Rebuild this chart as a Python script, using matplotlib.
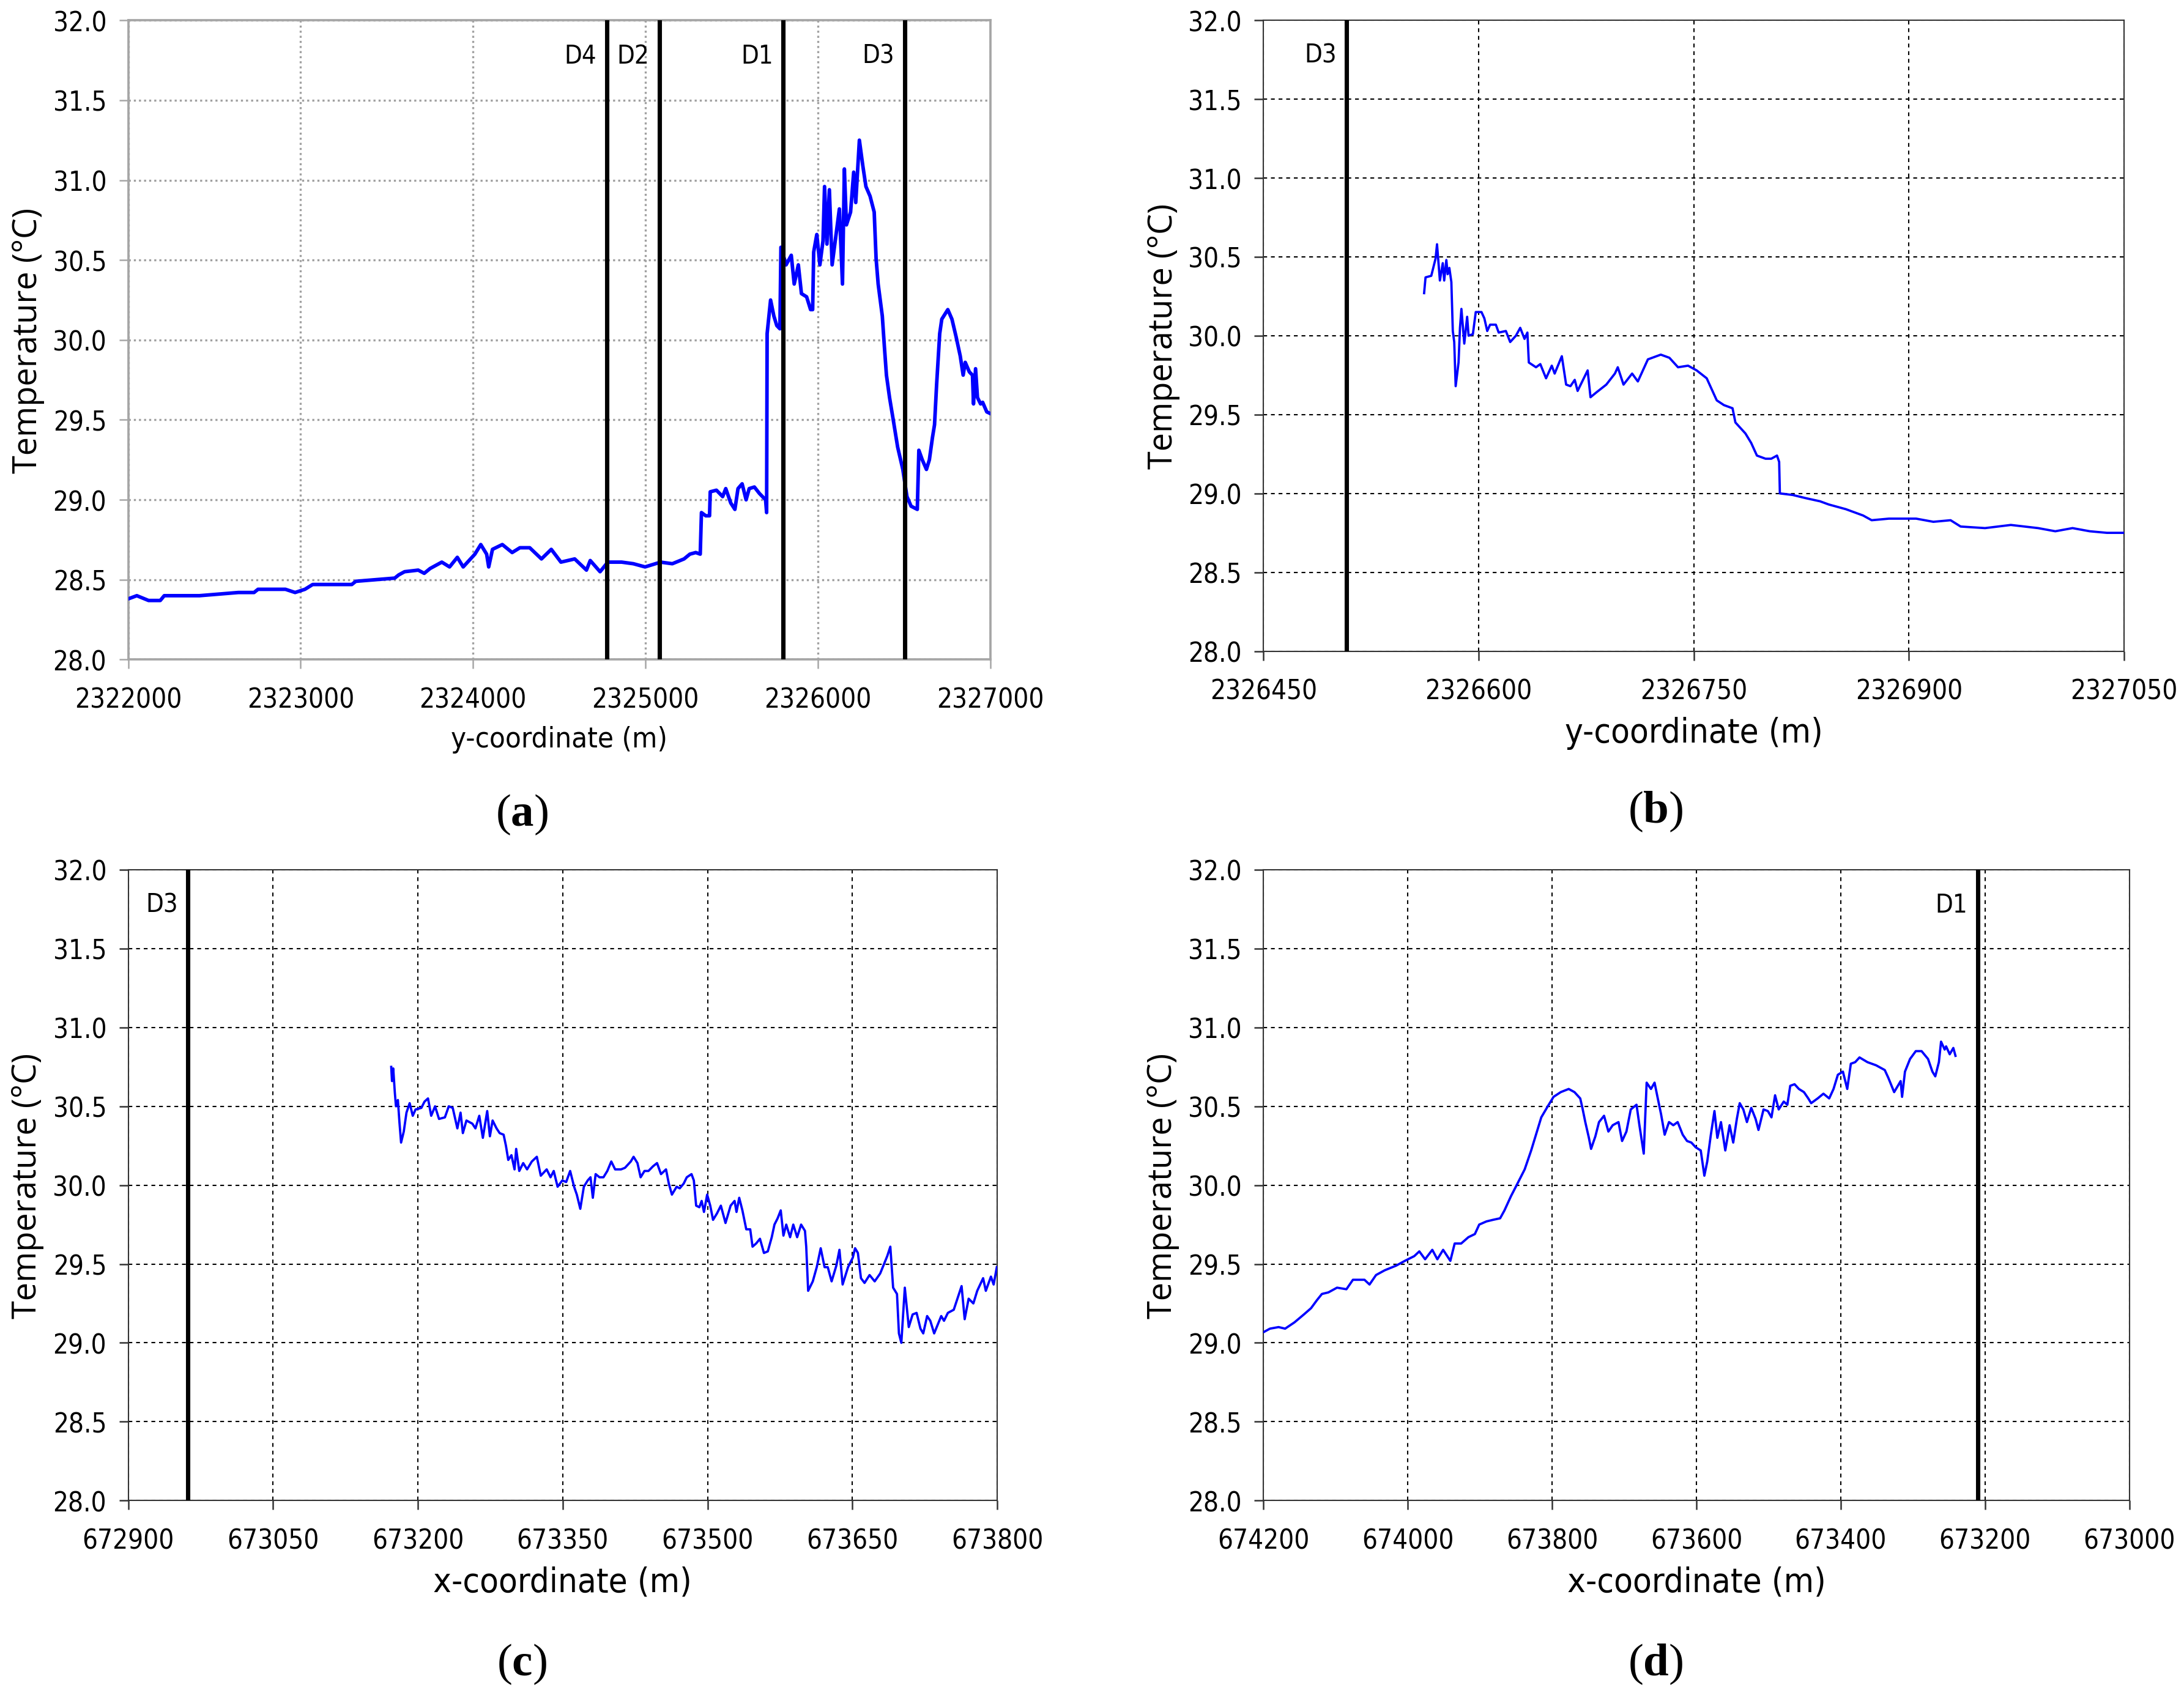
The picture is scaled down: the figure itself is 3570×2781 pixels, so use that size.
import numpy as np
import matplotlib
matplotlib.use("Agg")
import matplotlib.pyplot as plt

plt.rcParams['font.family'] = ['DejaVu Sans']
plt.rcParams['font.stretch'] = 'condensed'
plt.rcParams['mathtext.fontset'] = 'custom'
plt.rcParams['mathtext.rm'] = 'Liberation Serif'
plt.rcParams['mathtext.bf'] = 'Liberation Serif:bold'

# ---- panel (a): transect along y ----
ya = [2322000, 2322050, 2322118, 2322186, 2322209, 2322322, 2322413, 2322526, 2322639, 2322730,
      2322753, 2322912, 2322968, 2323025, 2323070, 2323184, 2323297, 2323320, 2323433, 2323546,
      2323569, 2323603, 2323682, 2323717, 2323751, 2323819, 2323864, 2323909, 2323943, 2323977,
      2324011, 2324045, 2324079, 2324091, 2324113, 2324170, 2324227, 2324272, 2324329, 2324397,
      2324454, 2324510, 2324590, 2324658, 2324680, 2324737, 2324782, 2324862, 2324930, 2324998,
      2325088, 2325156, 2325224, 2325258, 2325292, 2325318, 2325325, 2325350, 2325372, 2325376,
      2325412, 2325448, 2325466, 2325495, 2325519, 2325537, 2325561, 2325584, 2325602, 2325632,
      2325661, 2325697, 2325703, 2325706, 2325726, 2325745, 2325762, 2325780, 2325786, 2325816,
      2325846, 2325863, 2325887, 2325905, 2325935, 2325958, 2325970, 2325976, 2325994, 2326012,
      2326030, 2326039, 2326053, 2326067, 2326083, 2326101, 2326125, 2326143, 2326154, 2326166,
      2326190, 2326208, 2326220, 2326241, 2326261, 2326279, 2326303, 2326327, 2326338, 2326350,
      2326374, 2326386, 2326398, 2326416, 2326439, 2326463, 2326493, 2326517, 2326541, 2326577,
      2326586, 2326606, 2326630, 2326647, 2326665, 2326677, 2326689, 2326707, 2326719, 2326754,
      2326778, 2326802, 2326826, 2326843, 2326855, 2326879, 2326897, 2326903, 2326915, 2326926,
      2326944, 2326956, 2326980, 2327000]
ta = [28.38, 28.40, 28.37, 28.37, 28.40, 28.40, 28.40, 28.41, 28.42, 28.42,
      28.44, 28.44, 28.42, 28.44, 28.47, 28.47, 28.47, 28.49, 28.50, 28.51,
      28.53, 28.55, 28.56, 28.54, 28.57, 28.61, 28.58, 28.64, 28.58, 28.62,
      28.66, 28.72, 28.66, 28.58, 28.69, 28.72, 28.67, 28.70, 28.70, 28.63,
      28.69, 28.61, 28.63, 28.56, 28.62, 28.55, 28.61, 28.61, 28.60, 28.58,
      28.61, 28.60, 28.63, 28.66, 28.67, 28.66, 28.92, 28.90, 28.90, 29.05,
      29.06, 29.02, 29.07, 28.98, 28.94, 29.07, 29.10, 29.00, 29.07, 29.08,
      29.04, 29.00, 28.92, 30.04, 30.25, 30.15, 30.09, 30.07, 30.58, 30.47,
      30.53, 30.35, 30.47, 30.29, 30.27, 30.19, 30.19, 30.55, 30.66, 30.47,
      30.62, 30.96, 30.60, 30.94, 30.47, 30.62, 30.82, 30.35, 31.07, 30.72,
      30.80, 31.05, 30.86, 31.25, 31.09, 30.96, 30.90, 30.80, 30.51, 30.35,
      30.15, 29.96, 29.78, 29.64, 29.49, 29.33, 29.19, 29.02, 28.96, 28.94,
      29.31, 29.25, 29.19, 29.25, 29.39, 29.47, 29.72, 30.04, 30.13, 30.19,
      30.13, 30.02, 29.90, 29.78, 29.86, 29.80, 29.78, 29.60, 29.82, 29.64,
      29.60, 29.61, 29.55, 29.54]
a_marks = [2324775, 2325080, 2325800, 2326505]
a_names = ['D4', 'D2', 'D1', 'D3']

# ---- panel (b): zoom of the northern end ----
yb = [2326562, 2326563, 2326567, 2326570, 2326571, 2326573, 2326575, 2326576, 2326577.5, 2326578.4,
      2326579.6, 2326581, 2326582, 2326583, 2326584, 2326586, 2326587, 2326588, 2326590, 2326592,
      2326593, 2326596, 2326598, 2326602, 2326604, 2326606, 2326608, 2326612, 2326614, 2326619,
      2326622, 2326626, 2326629, 2326632, 2326634, 2326635, 2326640, 2326643, 2326647, 2326651,
      2326653, 2326658, 2326661, 2326664, 2326667, 2326669, 2326676, 2326678, 2326682, 2326689,
      2326695, 2326697, 2326701, 2326707, 2326711, 2326718, 2326727, 2326733, 2326739, 2326746,
      2326752, 2326759, 2326763, 2326766, 2326771, 2326777, 2326779, 2326786, 2326790, 2326794,
      2326800, 2326804, 2326808, 2326809.5, 2326810, 2326819, 2326828, 2326838, 2326844, 2326856,
      2326868, 2326874, 2326886, 2326898, 2326905, 2326917, 2326929, 2326936, 2326953, 2326971,
      2326990, 2327002, 2327014, 2327026, 2327038, 2327050]
tb = [30.27, 30.37, 30.38, 30.49, 30.58, 30.35, 30.46, 30.35, 30.48, 30.39,
      30.43, 30.34, 30.03, 29.96, 29.68, 29.83, 30.05, 30.17, 29.95, 30.12,
      30.00, 30.01, 30.15, 30.15, 30.11, 30.03, 30.07, 30.07, 30.02, 30.03,
      29.96, 30.00, 30.05, 29.98, 30.02, 29.83, 29.80, 29.82, 29.73, 29.81,
      29.76, 29.87, 29.69, 29.68, 29.72, 29.65, 29.78, 29.61, 29.64, 29.69,
      29.76, 29.80, 29.69, 29.76, 29.71, 29.85, 29.88, 29.86, 29.80, 29.81,
      29.78, 29.73, 29.65, 29.59, 29.56, 29.54, 29.45, 29.38, 29.32, 29.24,
      29.22, 29.22, 29.24, 29.20, 29.00, 28.99, 28.97, 28.95, 28.93, 28.90,
      28.86, 28.83, 28.84, 28.84, 28.84, 28.82, 28.83, 28.79, 28.78, 28.80,
      28.78, 28.76, 28.78, 28.76, 28.75, 28.75]
b_marks = [2326508]
b_names = ['D3']

# ---- panel (c): transect along x (eastward) ----
xc_px = [3, 5, 8, 12, 15, 20, 24, 28, 35, 42, 50, 58, 65, 80, 88, 97, 105, 115, 125, 140,
         150, 160, 172, 180, 186, 195, 210, 218, 228, 237, 248, 255, 262, 272, 280, 290, 296, 302, 310, 318,
         322, 330, 340, 350, 362, 375, 385, 400, 410, 418, 428, 440, 450, 460, 470, 477, 486, 495, 505, 512,
         518, 525, 535, 545, 555, 565, 575, 590, 600, 615, 622, 632, 640, 650, 660, 672, 682, 692, 705, 712,
         720, 732, 740, 750, 758, 770, 776, 782, 790, 796, 802, 810, 818, 825, 835, 845, 857, 870, 880, 885,
         892, 900, 910, 920, 926, 935, 945, 955, 965, 975, 982, 990, 998, 1005, 1012, 1022, 1030, 1040, 1050, 1060,
         1063, 1068, 1080, 1090, 1100, 1110, 1118, 1128, 1140, 1148, 1156, 1170, 1182, 1188, 1195, 1203, 1212, 1225, 1238, 1252,
         1262, 1270, 1278, 1285, 1295, 1300, 1306, 1315, 1325, 1335, 1345, 1355, 1362, 1372, 1380, 1390, 1398, 1408, 1415, 1425,
         1440, 1452, 1460, 1468, 1478, 1490, 1500, 1515, 1522, 1535, 1542, 1550]
xc = [round(673200 + (p - 71) / 2.4667, 1) for p in xc_px]
tc = [30.75, 30.66, 30.74, 30.59, 30.50, 30.54, 30.40, 30.27, 30.34, 30.46, 30.52, 30.44, 30.48, 30.49, 30.53, 30.55, 30.44, 30.50, 30.42, 30.43,
      30.50, 30.49, 30.36, 30.46, 30.33, 30.41, 30.39, 30.36, 30.44, 30.30, 30.47, 30.31, 30.41, 30.36, 30.33, 30.32, 30.25, 30.16, 30.19, 30.10,
      30.23, 30.09, 30.14, 30.10, 30.15, 30.18, 30.06, 30.10, 30.05, 30.09, 29.99, 30.03, 30.02, 30.09, 29.99, 29.94, 29.85, 29.99, 30.03, 30.05,
      29.92, 30.07, 30.05, 30.05, 30.09, 30.15, 30.10, 30.10, 30.11, 30.15, 30.18, 30.14, 30.05, 30.09, 30.09, 30.12, 30.14, 30.07, 30.10, 30.01,
      29.94, 29.99, 29.98, 30.01, 30.05, 30.07, 30.03, 29.87, 29.86, 29.90, 29.83, 29.94, 29.87, 29.78, 29.82, 29.87, 29.76, 29.87, 29.90, 29.83,
      29.92, 29.84, 29.72, 29.72, 29.61, 29.63, 29.66, 29.57, 29.58, 29.67, 29.75, 29.79, 29.84, 29.68, 29.75, 29.67, 29.75, 29.67, 29.75, 29.71,
      29.61, 29.33, 29.39, 29.48, 29.60, 29.48, 29.48, 29.39, 29.49, 29.59, 29.37, 29.48, 29.54, 29.60, 29.57, 29.41, 29.38, 29.43, 29.39, 29.44,
      29.50, 29.55, 29.61, 29.35, 29.31, 29.06, 29.00, 29.35, 29.10, 29.18, 29.19, 29.09, 29.06, 29.17, 29.14, 29.06, 29.11, 29.17, 29.14, 29.19,
      29.21, 29.30, 29.36, 29.15, 29.28, 29.25, 29.33, 29.41, 29.33, 29.42, 29.37, 29.48]
c_marks = [672962]
c_names = ['D3']

# ---- panel (d): transect along x (westward, reversed axis) ----
xd = [674199, 674191, 674179, 674170, 674157, 674144, 674134, 674126, 674119, 674110,
      674098, 674085, 674076, 674060, 674053, 674044, 674032, 674016, 674004, 673991,
      673984, 673976, 673966, 673959, 673951, 673941, 673935, 673926, 673916, 673907,
      673901, 673891, 673882, 673872, 673866, 673857, 673848, 673838, 673829, 673821,
      673815, 673806, 673798, 673788, 673777, 673769, 673761, 673758, 673754, 673749,
      673746, 673740, 673735, 673728, 673722, 673716, 673708, 673703, 673697, 673691,
      673683, 673679, 673673, 673669, 673663, 673658, 673654, 673649, 673644, 673638,
      673632, 673626, 673619, 673613, 673607, 673601, 673594, 673589, 673585, 673580,
      673575, 673571, 673566, 673560, 673554, 673549, 673544, 673540, 673535, 673530,
      673524, 673518, 673514, 673507, 673501, 673496, 673491, 673486, 673479, 673474,
      673470, 673464, 673458, 673451, 673445, 673441, 673432, 673424, 673416, 673410,
      673404, 673397, 673391, 673386, 673380, 673374, 673363, 673351, 673339, 673334,
      673326, 673317, 673315, 673311, 673304, 673296, 673288, 673279, 673273, 673269,
      673264, 673261, 673256, 673254, 673249, 673244, 673241]
td = [29.07, 29.09, 29.10, 29.09, 29.13, 29.18, 29.22, 29.27, 29.31, 29.32,
      29.35, 29.34, 29.40, 29.40, 29.37, 29.43, 29.46, 29.49, 29.52, 29.55,
      29.58, 29.53, 29.59, 29.53, 29.59, 29.52, 29.63, 29.63, 29.67, 29.69,
      29.75, 29.77, 29.78, 29.79, 29.84, 29.93, 30.01, 30.10, 30.22, 30.34,
      30.43, 30.50, 30.56, 30.59, 30.61, 30.59, 30.55, 30.49, 30.40, 30.30,
      30.23, 30.31, 30.40, 30.44, 30.34, 30.38, 30.40, 30.28, 30.34, 30.48,
      30.51, 30.38, 30.20, 30.65, 30.61, 30.65, 30.56, 30.45, 30.32, 30.40,
      30.38, 30.40, 30.32, 30.28, 30.27, 30.24, 30.22, 30.06, 30.15, 30.32,
      30.47, 30.30, 30.40, 30.22, 30.38, 30.27, 30.42, 30.52, 30.48, 30.40,
      30.49, 30.42, 30.35, 30.48, 30.47, 30.43, 30.57, 30.48, 30.53, 30.51,
      30.63, 30.64, 30.61, 30.59, 30.55, 30.52, 30.55, 30.58, 30.55, 30.61,
      30.70, 30.72, 30.61, 30.77, 30.78, 30.81, 30.78, 30.76, 30.73, 30.68,
      30.59, 30.66, 30.56, 30.72, 30.80, 30.85, 30.85, 30.80, 30.72, 30.69,
      30.78, 30.91, 30.86, 30.88, 30.83, 30.87, 30.82]
d_marks = [673210]
d_names = ['D1']

yticks = [28.0, 28.5, 29.0, 29.5, 30.0, 30.5, 31.0, 31.5, 32.0]

fig = plt.figure(figsize=(11.9, 9.2733), dpi=300)
ax_a = fig.add_axes([0.0587, 0.612, 0.3947, 0.3757])
ax_b = fig.add_axes([0.5785, 0.617, 0.3941, 0.3707])
ax_c = fig.add_axes([0.0587, 0.1178, 0.3979, 0.3707])
ax_d = fig.add_axes([0.5785, 0.1178, 0.3965, 0.3707])

panels = [
    (ax_a, ya, ta, a_marks, a_names, (2322000, 2327000), np.arange(2322000, 2327001, 1000), 'y-coordinate (m)', 11.3),
    (ax_b, yb, tb, b_marks, b_names, (2326450, 2327050), np.arange(2326450, 2327051, 150), 'y-coordinate (m)', 13.5),
    (ax_c, xc, tc, c_marks, c_names, (672900, 673800), np.arange(672900, 673801, 150), 'x-coordinate (m)', 13.5),
    (ax_d, xd, td, d_marks, d_names, (674200, 673000), np.arange(673000, 674201, 200), 'x-coordinate (m)', 13.5),
]

for i, (ax, xs, ts, marks, names, xlim, xt, xlab, xfs) in enumerate(panels):
    ax.plot(xs, ts, color='#0000ff', lw=1.4 if i == 0 else 0.9, zorder=3)
    for m, nm in zip(marks, names):
        ax.axvline(m, color='black', lw=1.7, zorder=4)
        ax.annotate(nm, xy=(m, 31.78), xytext=(-4, 0), textcoords='offset points',
                    ha='right', va='center', fontsize=10)
    ax.set_xlim(*xlim)
    ax.set_ylim(28.0, 32.0)
    ax.set_xticks(xt)
    ax.set_yticks(yticks)
    ax.set_yticklabels(['%.1f' % v for v in yticks])
    ax.set_xticklabels([str(v) for v in xt])
    if i == 0:
        ax.grid(True, color='#a0a0a0', linestyle=(0, (1, 1.5)), lw=0.8)
        for s in ax.spines.values():
            s.set_color('#a6a6a6')
            s.set_linewidth(0.9)
        tcol = '#a6a6a6'
    else:
        ax.grid(True, color='black', linestyle=(0, (3, 3)), lw=0.5)
        for s in ax.spines.values():
            s.set_color('#333333')
            s.set_linewidth(0.5)
        tcol = '#333333'
    ax.set_axisbelow(True)
    ax.tick_params(axis='both', direction='out', length=3.5, width=0.6,
                   color=tcol, labelsize=10.5, pad=5)
    ax.tick_params(axis='x', pad=7)
    ax.set_xlabel(xlab, fontsize=xfs)
    ax.set_ylabel('Temperature (°C)', fontsize=13, family=['Open Sans', 'DejaVu Sans'],
                  stretch='normal')
    ax.xaxis.set_label_coords(0.5, -0.103)
    ax.yaxis.set_label_coords(-0.097, 0.5)

for lab, fx, fy in [('a', 0.239, 0.521), ('b', 0.758, 0.523), ('c', 0.239, 0.022), ('d', 0.758, 0.022)]:
    fig.text(fx, fy, '(' + r'$\mathbf{' + lab + '}$' + ')', ha='center', va='center',
             fontsize=18, family='Liberation Serif')

fig.savefig('out.png', dpi=300)
